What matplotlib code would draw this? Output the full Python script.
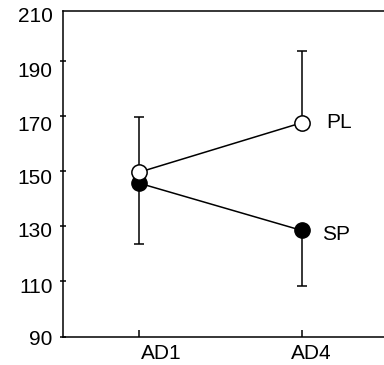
import matplotlib
matplotlib.use("Agg")
import matplotlib.pyplot as plt
import matplotlib.transforms as mtransforms

categories = ["AD1", "AD4"]
pl_values = [149.6, 167.5]
pl_err_up = [20.0, 26.0]
sp_values = [145.6, 128.5]
sp_err_down = [22.0, 20.0]
series_names = ["PL", "SP"]
y_ticks = [90, 110, 130, 150, 170, 190]
y_tick_labels = ["90", "110", "130", "150", "170", "190"]
top_label = "210"

plt.rcParams['font.family'] = ['Liberation Sans', 'DejaVu Sans']

fig = plt.figure(figsize=(3.84, 3.65), dpi=100)
ax = fig.add_axes([62.5/384, 1 - 336.7/365, 1 - 62.5/384, (336.7 - 10.7)/365])

x = [1, 2]

# SP: filled circles, error bars downward
ax.errorbar(x, sp_values, yerr=[sp_err_down, [0, 0]], fmt='-o', color='black',
            mfc='black', mec='black', ms=11, lw=1.1, elinewidth=1.1,
            capsize=3.5, capthick=1.1, zorder=2)
# PL: open circles, error bars upward
ax.errorbar(x, pl_values, yerr=[[0, 0], pl_err_up], fmt='-o', color='black',
            mfc='white', mec='black', mew=1.1, ms=11, lw=1.1, elinewidth=1.1,
            capsize=3.5, capthick=1.1, zorder=3)

ax.annotate(series_names[0], (x[1], pl_values[1]), xytext=(18, 0),
            textcoords='offset points', va='center', ha='left', fontsize=15)
ax.annotate(series_names[1], (x[1], sp_values[1]), xytext=(14.5, -3),
            textcoords='offset points', va='center', ha='left', fontsize=15)

ax.set_xlim(0.527, 2.507)
ax.set_ylim(90, 208.1)
ax.set_xticks(x)
ax.set_xticklabels(categories, fontsize=15)
ax.set_yticks(y_ticks)
ax.set_yticklabels(y_tick_labels, fontsize=15)
ax.tick_params(axis='y', direction='inout', length=4, width=1.1, pad=5)
ax.tick_params(axis='x', direction='in', length=5, width=1.1, pad=5)

t = ax.text(0.0, 1.0, top_label, ha='right', va='center', fontsize=15)
t.set_transform(ax.transAxes + mtransforms.ScaledTranslation(-10/100, -5.5/100, fig.dpi_scale_trans))

# shift tick labels as in reference
x_offs = [22.4, 10.0]
for lbl, dx in zip(ax.get_xticklabels(), x_offs):
    lbl.set_transform(lbl.get_transform() + mtransforms.ScaledTranslation(dx/100, 0, fig.dpi_scale_trans))
y_offs = [1, 4, 3.5, 5.5, 7.5, 9]
for lbl, dy in zip(ax.get_yticklabels(), y_offs):
    lbl.set_transform(lbl.get_transform() + mtransforms.ScaledTranslation(0, -dy/100, fig.dpi_scale_trans))

for s in ['left', 'top', 'bottom']:
    ax.spines[s].set_linewidth(1.1)
ax.spines['right'].set_visible(False)

fig.savefig('out.png', dpi=100)
